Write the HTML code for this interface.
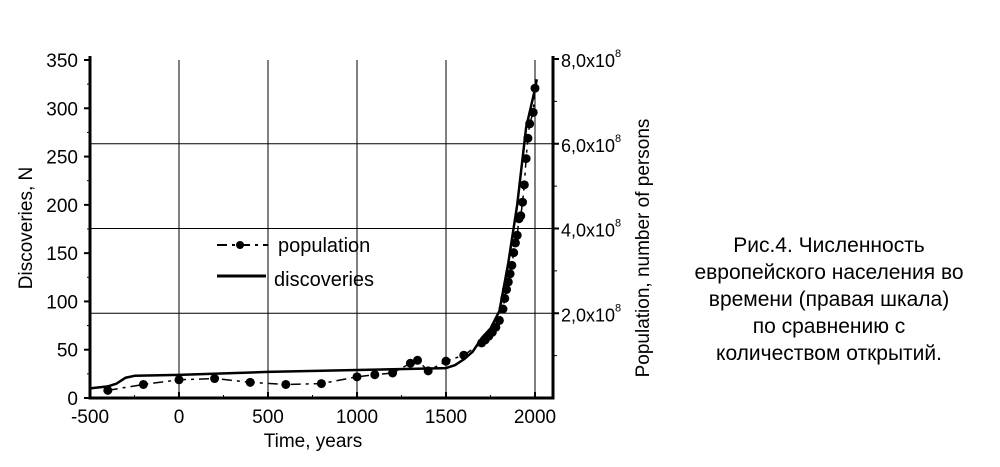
<!DOCTYPE html>
<html><head><meta charset="utf-8"><style>
html,body{margin:0;padding:0;background:#fff;}
svg{display:block;font-family:"Liberation Sans","Noto Sans CJK SC",sans-serif;}
</style></head><body>
<svg id="chart" width="1000" height="467" viewBox="0 0 1000 467">
<g id="grid"></g>
<g id="series"></g>
<g id="axes"></g>
<g>
  <line x1="217" y1="245" x2="268" y2="245" stroke="#000" stroke-width="2" stroke-dasharray="10,5,3,5"/>
  <circle cx="240" cy="245" r="4" fill="#000"/>
  <text x="278" y="252" font-size="20">population</text>
  <line x1="217" y1="276" x2="266" y2="276" stroke="#000" stroke-width="3"/>
  <text x="274" y="286" font-size="20">discoveries</text>
</g>
<text x="313" y="447" font-size="19" text-anchor="middle">Time, years</text>
<text transform="translate(32,228) rotate(-90)" font-size="19" text-anchor="middle">Discoveries, N</text>
<text transform="translate(649,248) rotate(-90)" font-size="19" text-anchor="middle">Population, number of persons</text>
<g font-size="21" text-anchor="middle">
  <text x="829" y="252">Рис.4. Численность</text>
  <text x="829" y="279">европейского населения во</text>
  <text x="829" y="306">времени (правая шкала)</text>
  <text x="829" y="333">по сравнению с</text>
  <text x="829" y="360">количеством открытий.</text>
</g>
</svg>
<script>
const xTicks=[-500,0,500,1000,1500,2000];
const yTicks=[0,50,100,150,200,250,300,350];
const y2Ticks=[2,4,6,8];
const y2Labels=["2,0x10","4,0x10","6,0x10","8,0x10"];
const discYears=[-500,-400,-350,-300,-250,0,500,1000,1500,1550,1600,1650,1700,1750,1800,1850,1900,1950,2000,2010];
const discValues=[10,12,15,21,23,24,27,29,31,34,40,48,62,72,90,140,200,280,320,330];
const popYears=[-400,-200,0,200,400,600,800,1000,1100,1200,1300,1340,1400,1500,1600,1700,1720,1740,1760,1780,1800,1820,1830,1840,1850,1860,1870,1880,1890,1900,1910,1920,1930,1940,1950,1960,1970,1990,2000];
const popMillions=[18,32,43,46,37,32,34,50,55,59,82,89,64,87,101,130,137,146,155,167,183,210,235,256,274,293,313,343,366,384,423,430,462,503,565,613,647,674,731];
const NS="http://www.w3.org/2000/svg";
const L=90,R=553,B=398,T=60;
const X=v=>L+(v+500)*(535-90)/2500;
const Y=v=>B-v*(B-T)/350;
const Y2=v=>B-v*(B-59)/8;
function mk(p,t,a){const e=document.createElementNS(NS,t);for(const k in a)e.setAttribute(k,a[k]);p.appendChild(e);return e;}
const grid=document.getElementById('grid'),axes=document.getElementById('axes'),ser=document.getElementById('series');
xTicks.forEach(v=>{if(v>-500){const l=mk(grid,'line',{x1:X(v),x2:X(v),y1:T,y2:B,stroke:'#000','stroke-width':1});

}
const t=mk(axes,'text',{x:X(v),y:B+25,'font-size':19,'text-anchor':'middle'});t.textContent=v;


mk(axes,'line',{x1:X(v),x2:X(v),y1:B,y2:B-6,stroke:'#000','stroke-width':2});
if(v<2000)mk(axes,'line',{x1:X(v+250),x2:X(v+250),y1:B,y2:B-3,stroke:'#000','stroke-width':1});});
y2Ticks.forEach((v,i)=>{if(v<8){const l=mk(grid,'line',{x1:L,x2:R,y1:Y2(v),y2:Y2(v),stroke:'#000','stroke-width':1});

}
const t=mk(axes,'text',{x:561,y:Y2(v)+8,'font-size':18});t.textContent=y2Labels[i];


const s=mk(t,'tspan',{dy:-10,'font-size':11});s.textContent='8';
mk(axes,'line',{x1:R,x2:R+6,y1:Y2(v),y2:Y2(v),stroke:'#000','stroke-width':2});
mk(axes,'line',{x1:R,x2:R+4,y1:Y2(v-1),y2:Y2(v-1),stroke:'#000','stroke-width':1});});
yTicks.forEach(v=>{const t=mk(axes,'text',{x:L-12,y:Y(v)+7,'font-size':19,'text-anchor':'end'});t.textContent=v;


mk(axes,'line',{x1:L,x2:L-6,y1:Y(v),y2:Y(v),stroke:'#000','stroke-width':2});
if(v<350)mk(axes,'line',{x1:L,x2:L-3,y1:Y(v+25),y2:Y(v+25),stroke:'#000','stroke-width':1});});
mk(axes,'polyline',{points:`${L},${T-4} ${L},${B} ${R},${B} ${R},${T-4}`,fill:'none',stroke:'#000','stroke-width':3});
const dl=mk(ser,'polyline',{points:discYears.map((y,i)=>X(y)+','+Y(discValues[i])).join(' '),fill:'none',stroke:'#000','stroke-width':2.5,'stroke-linejoin':'round'});


const pl=mk(ser,'polyline',{points:popYears.map((y,i)=>X(y)+','+Y2(popMillions[i]/100)).join(' '),fill:'none',stroke:'#000','stroke-width':1.5,'stroke-dasharray':'10,5,3,5'});


popYears.forEach((y,i)=>{const c=mk(ser,'circle',{cx:X(y),cy:Y2(popMillions[i]/100),r:4.5,fill:'#000'});

});
</script>
</body></html>
